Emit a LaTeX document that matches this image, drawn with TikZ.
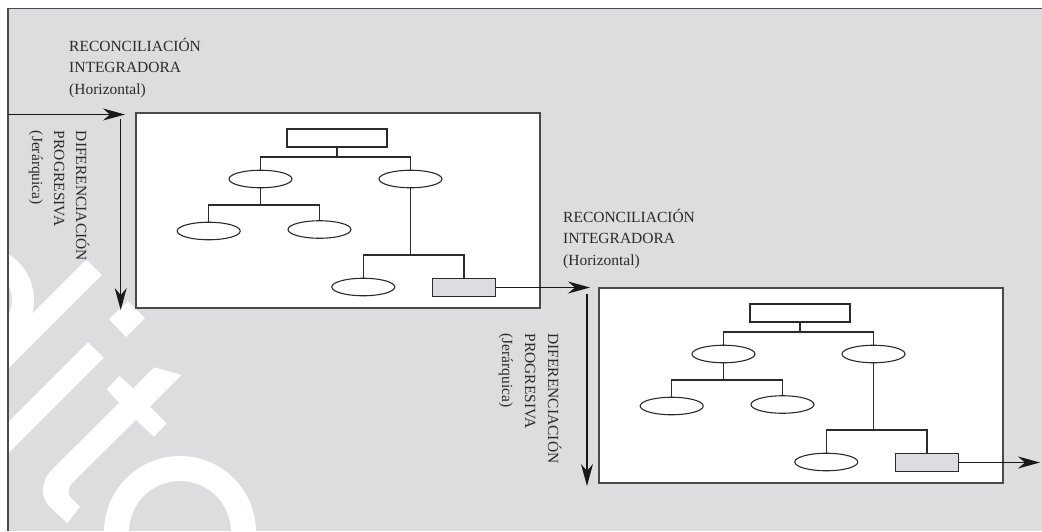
\documentclass[tikz,border=0pt]{standalone}
\usepackage{fontspec}
\setmainfont{Liberation Serif}
\usetikzlibrary{arrows.meta,shapes.geometric}

\definecolor{sheet}{HTML}{DCDDDF}
\definecolor{ink}{HTML}{2B2B2B}
\definecolor{framegray}{HTML}{4A4A4A}

\tikzset{
  lbl/.style={font=\fontsize{15.5}{21.5}\selectfont, text=ink, inner sep=0pt},
  panel/.style={rectangle, draw=framegray, line width=1.8pt, fill=white,
    minimum width=404pt, minimum height=195pt, inner sep=0pt},
  concept/.style={ellipse, draw=ink, line width=1.1pt, fill=white,
    minimum width=63pt, minimum height=17.5pt, inner sep=0pt},
  rootbox/.style={rectangle, draw=ink, line width=1.1pt, fill=white,
    minimum width=100pt, minimum height=18pt, inner sep=0pt},
  leafbox/.style={rectangle, draw=ink, line width=1.1pt, fill=sheet,
    minimum width=62.7pt, minimum height=18.3pt, inner sep=0pt},
  link/.style={draw=ink, line width=1.1pt},
  flow/.style={draw=black!90, line width=1.1pt,
    -{Stealth[length=22pt,width=12pt,inset=7pt]}},
  wmark/.style={white, line width=22pt},
  % one hierarchical concept map inside its panel
  conceptmap/.pic={
    \node[panel] (-panel) at (202,97.5) {};
    \node[rootbox] (-root) at (201,25) {};
    \node[concept] (-l1) at (124.5,66) {};
    \node[concept] (-r1) at (274.5,66) {};
    \node[concept] (-l2a) at (72.7,118) {};
    \node[concept] (-l2b) at (183.5,116.5) {};
    \node[concept] (-l3) at (227.3,174) {};
    \node[leafbox] (-leaf) at (328,174.5) {};
    \coordinate (-j1) at (201,44);
    \coordinate (-j2) at (124.5,92);
    \coordinate (-j3) at (274.5,142);
    \draw[link] (-root) -- (-j1);
    \draw[link] (-l1) |- (-j1) -| (-r1);
    \draw[link] (-l1) -- (-j2);
    \draw[link] (-l2a) |- (-j2) -| (-l2b);
    \draw[link] (-r1) -- (-j3);
    \draw[link] (-l3) |- (-j3) -| (-leaf);
  }
}

\begin{document}
\begin{tikzpicture}[x=1pt,y=-1pt]
\useasboundingbox (0,0) rectangle (1042,531);
\fill[sheet] (8,8) rectangle (1042,531);

% publisher watermark letters
\begin{scope}
  \clip (0,0) rectangle (1042,531);
  \draw[wmark] (94.2,267.2) -- (-60,421.4);
  \draw[wmark] (-20,300) circle[radius=43pt];
  \draw[wmark] (96,350) -- (-60,506);
  \fill[white] (128,301) -- (145,318) -- (126,337) -- (109,319) -- cycle;
  \fill[white] (154,367.3) -- (181.7,375) -- (150,406.7) -- (166.7,423.3)
    -- (154,436.7) -- (136,420) -- (73.3,481.7)
    .. controls (67,488) and (67,495) .. (72,499) -- (80,506.7)
    -- (67.3,523.3) -- (50,507)
    .. controls (40,497) and (40,481) .. (53.3,468.3)
    -- (119.3,402.7) -- (106.7,389.3) -- (119.3,376) -- (133.3,388.3) -- cycle;
  \draw[white, line width=25pt] (180,532) circle[radius=63.5pt];
\end{scope}

% frame edges
\draw[framegray, line width=1.6pt] (8,531) -- (8,8.6) -- (1042,8.6);

% the two concept maps
\pic (A) at (136,113) {conceptmap};
\pic (B) at (599,288) {conceptmap};

% reading directions
\coordinate (inA) at (8,114.5);
\coordinate (tipA) at (125,114.5);
\coordinate (downAs) at (120.7,118.5);
\coordinate (downAe) at (120.7,310);
\coordinate (tipB) at (590,287.5);
\coordinate (downBs) at (587,294);
\coordinate (downBe) at (587,486);
\coordinate (outB) at (1040,462.5);

\draw[flow] (inA) -- (tipA);
\draw[flow] (downAs) -- (downAe);
\draw[flow] (A-leaf.east) -- (tipB);
\draw[flow] (downBs) -- (downBe);
\draw[flow] (B-leaf.east) -- (outB);

% horizontal labels
\node[lbl, anchor=base west] (hA1) at (69,51.5) {RECONCILIACIÓN};
\node[lbl, anchor=base west] (hA2) at (69,72.7) {INTEGRADORA};
\node[lbl, anchor=base west] (hA3) at (69,94) {(Horizontal)};
\node[lbl, anchor=base west] (hB1) at (563,222) {RECONCILIACIÓN};
\node[lbl, anchor=base west] (hB2) at (563,243.5) {INTEGRADORA};
\node[lbl, anchor=base west] (hB3) at (563,265) {(Horizontal)};

% vertical labels
\node[lbl, anchor=base west, rotate=-90] (vA1) at (76,130.7) {DIFERENCIACIÓN};
\node[lbl, anchor=base west, rotate=-90] (vA2) at (54,130.7) {PROGRESIVA};
\node[lbl, anchor=base west, rotate=-90] (vA3) at (32,130.7) {(Jerárquica)};
\node[lbl, anchor=base west, rotate=-90] (vB1) at (548,333.3) {DIFERENCIACIÓN};
\node[lbl, anchor=base west, rotate=-90] (vB2) at (525,333.3) {PROGRESIVA};
\node[lbl, anchor=base west, rotate=-90] (vB3) at (502,333.3) {(Jerárquica)};
\end{tikzpicture}
\end{document}
